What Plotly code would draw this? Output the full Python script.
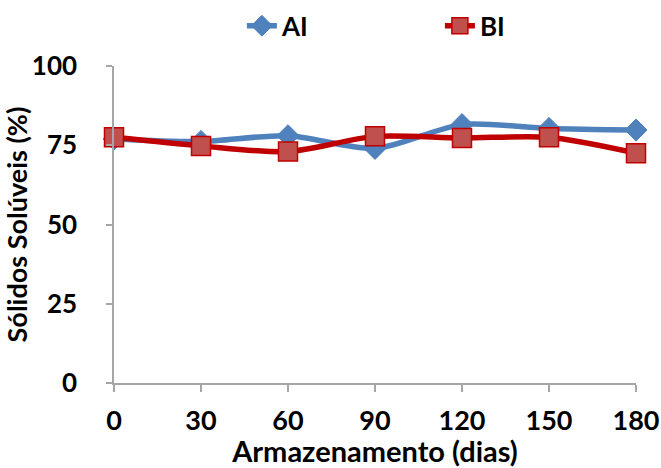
import plotly.graph_objects as go

dias = [0, 30, 60, 90, 120, 150, 180]
ai = [77.0, 76.2, 78.0, 74.0, 81.5, 80.3, 79.8]
bi = [77.5, 74.8, 73.0, 77.8, 77.3, 77.5, 72.5]
y_ticks = [0, 25, 50, 75, 100]

FONT = "Lato"
BOLD = dict(family=FONT, color="black", weight="bold")

fig = go.Figure()
fig.add_trace(go.Scatter(
    x=dias, y=ai, name="AI", mode="lines+markers", cliponaxis=False,
    line=dict(color="#4F81BD", width=5.5, shape="spline", smoothing=0.8),
    marker=dict(symbol="diamond", size=17, color="#4F81BD",
                line=dict(color="#4F81BD", width=1)),
))
fig.add_trace(go.Scatter(
    x=dias, y=bi, name="BI", mode="lines+markers", cliponaxis=False,
    line=dict(color="#C00000", width=5.5, shape="spline", smoothing=0.8),
    marker=dict(symbol="square", size=19, color="#C0504D",
                line=dict(color="#C00000", width=1.5)),
))

fig.update_layout(
    width=661, height=468,
    margin=dict(l=114, r=25, t=66, b=85, autoexpand=False),
    plot_bgcolor="white", paper_bgcolor="white",
    font=dict(family=FONT, color="black"),
    showlegend=True,
    legend=dict(orientation="h", x=0.245, xanchor="left", xref="paper",
                y=0.995, yref="container", yanchor="top",
                font=dict(size=26, **BOLD),
                itemwidth=30, entrywidth=153, traceorder="normal"),
    xaxis=dict(
        range=[0, 180], tickvals=dias, ticktext=[str(d) for d in dias],
        showgrid=False, zeroline=False, showline=True, automargin=False,
        linecolor="#A6A6A6", linewidth=1.5,
        ticks="outside", ticklen=7, tickcolor="#A6A6A6", tickwidth=1.5,
        ticklabelstandoff=6,
        tickfont=dict(size=27, **BOLD),
        title=dict(text="Armazenamento (dias)", standoff=24,
                   font=dict(size=29, **BOLD)),
    ),
    yaxis=dict(
        range=[0, 100], tickvals=y_ticks,
        showgrid=False, zeroline=False, showline=True, automargin=False,
        linecolor="#A6A6A6", linewidth=1.5,
        ticks="outside", ticklen=6, tickcolor="#A6A6A6", tickwidth=1.5,
        ticklabelstandoff=24,
        tickfont=dict(size=26, **BOLD),
        title=dict(text="Sólidos Solúveis (%)", standoff=0,
                   font=dict(size=27, **BOLD)),
    ),
)

fig.write_html("out.html")
